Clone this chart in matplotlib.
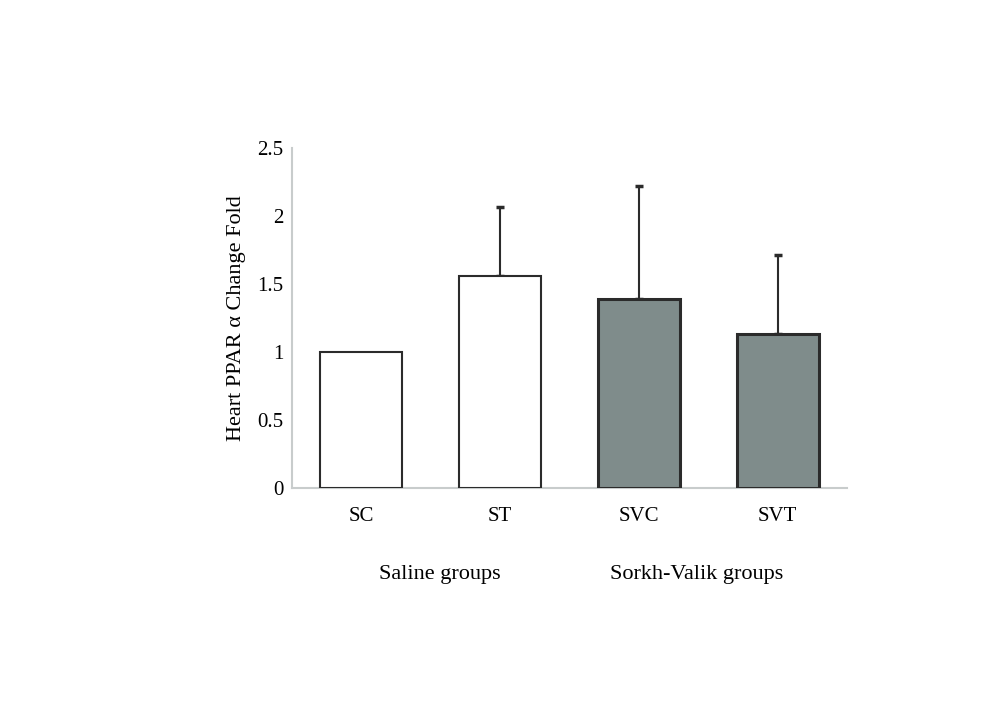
import matplotlib
matplotlib.use("Agg")
import matplotlib.pyplot as plt

# values
groups = ["SC", "ST", "SVC", "SVT"]
means = [1.0, 1.56, 1.39, 1.13]
errors = [0.0, 0.51, 0.83, 0.58]
fills = ["white", "white", "#7f8c8b", "#7f8c8b"]
edge_widths = [1.5, 1.5, 2.2, 2.2]
group_names = ["Saline groups", "Sorkh-Valik groups"]
yticks = [0, 0.5, 1, 1.5, 2, 2.5]
ytick_labels = ["0", "0.5", "1", "1.5", "2", "2.5"]

plt.rcParams['font.family'] = ['Liberation Serif', 'DejaVu Serif']

fig = plt.figure(figsize=(10, 7.11), dpi=100)
ax = fig.add_axes([0.292, 0.3136, 0.555, 0.4782])

x = list(range(len(groups)))
ax.bar(x, means, width=0.59, color=fills, edgecolor="#2b2b2b", linewidth=edge_widths, zorder=3)
for xi, m, e in zip(x, means, errors):
    if e > 0:
        ax.errorbar(xi, m, yerr=[[0], [e]], fmt="none", ecolor="#2b2b2b",
                    elinewidth=1.5, capsize=3, capthick=2.5, zorder=2)

ax.set_xlim(-0.5, 3.5)
ax.set_ylim(0, 2.5)
ax.set_yticks(yticks)
ax.set_yticklabels(ytick_labels, fontsize=15)
ax.set_xticks(x)
ax.set_xticklabels(groups, fontsize=15)
ax.tick_params(axis="both", length=0)
ax.tick_params(axis="y", pad=6)
ax.tick_params(axis="x", pad=14)

for side in ["top", "right"]:
    ax.spines[side].set_visible(False)
ax.spines["left"].set_color("#c8cccc")
ax.spines["left"].set_linewidth(1.5)
ax.spines["bottom"].set_color("#c8cccc")
ax.spines["bottom"].set_linewidth(1.5)

ax.set_ylabel("Heart PPAR \u03b1 Change Fold", fontsize=16, labelpad=8)

fig.text(0.44, 0.192, group_names[0], fontsize=16, ha="center", va="center")
fig.text(0.697, 0.192, group_names[1], fontsize=16, ha="center", va="center")

fig.savefig("out.png", dpi=100, facecolor="white")
